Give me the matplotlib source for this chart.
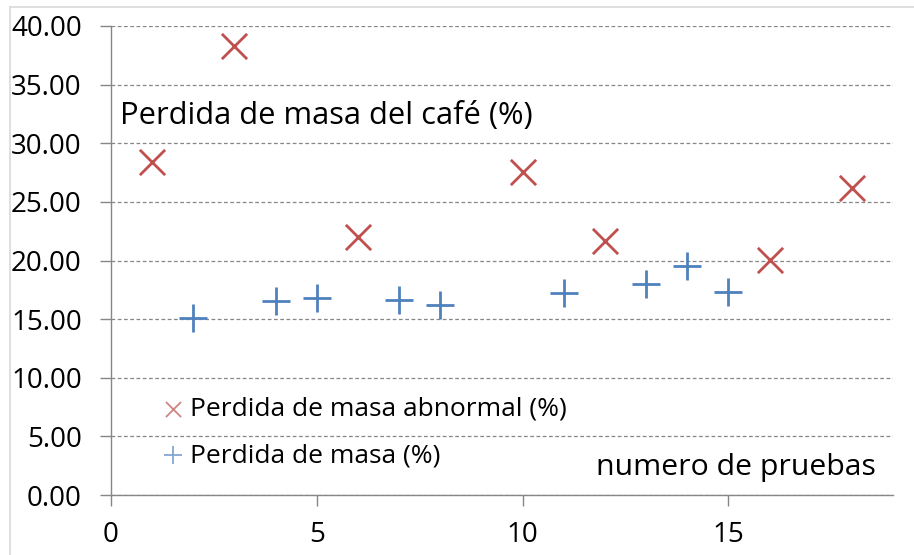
import numpy as np
import matplotlib
matplotlib.use('Agg')
import matplotlib.pyplot as plt
from matplotlib.lines import Line2D

plt.rcParams['font.family'] = ['Open Sans', 'DejaVu Sans']

# datos
prueba_abn = [1, 3, 6, 10, 12, 16, 18]
masa_abn = [28.36, 38.28, 22.02, 27.54, 21.65, 20.03, 26.2]
prueba = [2, 4, 5, 7, 8, 11, 13, 14, 15]
masa = [15.06, 16.57, 16.82, 16.62, 16.2, 17.25, 17.96, 19.55, 17.33]

gris = '#868686'

fig = plt.figure(figsize=(9.14, 5.55), dpi=100)
ax = fig.add_axes([111 / 914, 1 - 495 / 555, (893 - 111) / 914, (495 - 26) / 555])

ax.scatter(prueba_abn, masa_abn, marker='x', s=330, linewidths=2, color='#C0504D',
           label='Perdida de masa abnormal (%)', zorder=3)
ax.scatter(prueba, masa, marker='+', s=430, linewidths=2, color='#4F81BD',
           label='Perdida de masa (%)', zorder=3)

ax.set_xlim(0, 19)
ax.set_ylim(0, 40)
ax.set_xticks([0, 5, 10, 15])
ax.set_yticks(np.arange(0, 41, 5))
ax.set_yticklabels([f'{v:.2f}' for v in np.arange(0, 41, 5)])

ax.grid(axis='y', linestyle=(0, (3, 2)), color=gris, linewidth=0.9)
ax.set_axisbelow(True)
for s in ['top', 'right']:
    ax.spines[s].set_visible(False)
for s in ['left', 'bottom']:
    ax.spines[s].set_color(gris)
    ax.spines[s].set_linewidth(1)
ax.tick_params(axis='both', colors=gris, labelcolor='black', labelsize=20,
               length=8, width=1, direction='out')
ax.tick_params(axis='y', pad=13)
ax.tick_params(axis='x', pad=11)

ax.text(120 / 914, 1 - 116 / 555, 'Perdida de masa del café (%)', transform=fig.transFigure,
        fontsize=22.2, va='center', ha='left')
ax.text(876 / 914, 1 - 468 / 555, 'numero de pruebas', transform=fig.transFigure,
        fontsize=21.8, va='center', ha='right')

leg = ax.legend(loc='upper left', bbox_to_anchor=(160 / 914, 1 - 397 / 555),
                bbox_transform=fig.transFigure, frameon=False, fontsize=19,
                markerscale=0.6, handletextpad=0.15, handlelength=1.0,
                labelspacing=0.8, borderpad=0, borderaxespad=0)
for h in leg.legend_handles:
    h.set_alpha(0.7)
    h.set_linewidth(1.3)

# borde del area del grafico
fig.add_artist(Line2D([10 / 914, 1], [1 - 7 / 555, 1 - 7 / 555], color='#d9d9d9', lw=1.2))
fig.add_artist(Line2D([10 / 914, 10 / 914], [0, 1 - 7 / 555], color='#d9d9d9', lw=1.2))

fig.savefig('out.png', dpi=100)
